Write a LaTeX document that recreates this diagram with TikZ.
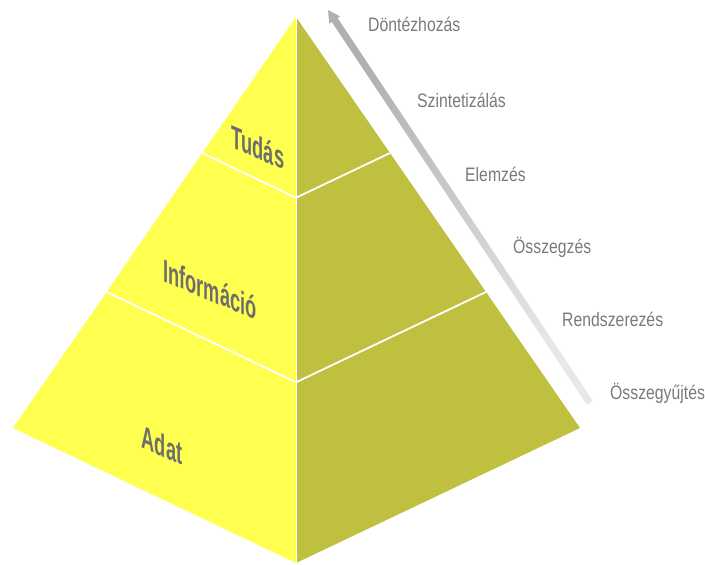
\documentclass[tikz,border=0pt]{standalone}
\usepackage{fontspec}
\setmainfont{Liberation Sans}
\newfontfamily\layerfont{Liberation Sans}[FakeStretch=0.57]
\newfontfamily\stepfont{Liberation Sans}[FakeStretch=0.81]
\usetikzlibrary{calc}
\definecolor{facelight}{HTML}{FFFF50}
\definecolor{facedark}{HTML}{C0C040}
\definecolor{labelgray}{HTML}{6E6E6E}
\definecolor{stepgray}{HTML}{7A7A7A}
\definecolor{arrowdark}{HTML}{B0B0B0}
\definecolor{arrowlight}{HTML}{E8E8E8}
\tikzset{
  % Pyramid faces
  face/.style={fill=#1, draw=none},
  face/.default={facelight},
  % White seams between the layers
  seam/.style={draw=white, line width=1.8pt},
  % Layer names, slanted onto the front face
  layername/.style={
    font=\layerfont\bfseries\fontsize{32}{32}\selectfont, text=labelgray,
    yslant=-0.42, inner sep=0pt,
  },
  % Process steps along the arrow
  steplabel/.style={
    font=\stepfont\fontsize{19.5}{19.5}\selectfont, text=stepgray,
    anchor=base west, inner sep=0pt,
  },
}
\begin{document}
\begin{tikzpicture}[x=1pt, y=-1pt]
  \useasboundingbox (0,0) rectangle (705,565);

  % Corners
  \coordinate (apex) at (296,17);
  \coordinate (left) at (13,428);
  \coordinate (front) at (296,563);
  \coordinate (right) at (580,428);

  % Faces
  \fill[face=facelight] (apex) -- (left) -- (front) -- cycle;
  \fill[face=facedark] (apex) -- (front) -- (right) -- cycle;

  % Layer boundaries
  \coordinate (top-l) at ($(apex)!0.331!(left)$);
  \coordinate (top-f) at ($(apex)!0.331!(front)$);
  \coordinate (top-r) at ($(apex)!0.331!(right)$);
  \coordinate (mid-l) at ($(apex)!0.669!(left)$);
  \coordinate (mid-f) at ($(apex)!0.669!(front)$);
  \coordinate (mid-r) at ($(apex)!0.669!(right)$);
  \draw[seam] (top-l) -- (top-f) -- (top-r);
  \draw[seam] (mid-l) -- (mid-f) -- (mid-r);
  \draw[draw=white, line width=1pt] (apex) -- (front);

  % Layer names
  \node[layername] (tudas) at (258,147) {Tudás};
  \node[layername] (informacio) at (210,289) {Információ};
  \node[layername] (adat) at (162,445) {Adat};

  % Process arrow
  \coordinate (arrow-tail) at (590,403);
  \coordinate (arrow-tip) at (328,10);
  \coordinate (arrow-neck) at ($(arrow-tip)!12pt!(arrow-tail)$);
  \shade[top color=arrowdark, bottom color=arrowlight, shading angle=33.7]
    ($(arrow-tail)!3.5pt!90:(arrow-neck)$)
    -- ($(arrow-neck)!3.5pt!-90:(arrow-tail)$)
    -- ($(arrow-neck)!6.5pt!-90:(arrow-tail)$)
    -- (arrow-tip)
    -- ($(arrow-neck)!6.5pt!90:(arrow-tail)$)
    -- ($(arrow-neck)!3.5pt!90:(arrow-tail)$)
    -- ($(arrow-tail)!3.5pt!-90:(arrow-neck)$) -- cycle;

  % Steps
  \node[steplabel] (st-dontes) at (368,31) {Döntézhozás};
  \node[steplabel] (st-szintezis) at (417,107) {Szintetizálás};
  \node[steplabel] (st-elemzes) at (465,181) {Elemzés};
  \node[steplabel] (st-osszegzes) at (513,253) {Összegzés};
  \node[steplabel] (st-rendszer) at (562,326) {Rendszerezés};
  \node[steplabel] (st-gyujtes) at (610,399) {Összegyűjtés};

\end{tikzpicture}
\end{document}
